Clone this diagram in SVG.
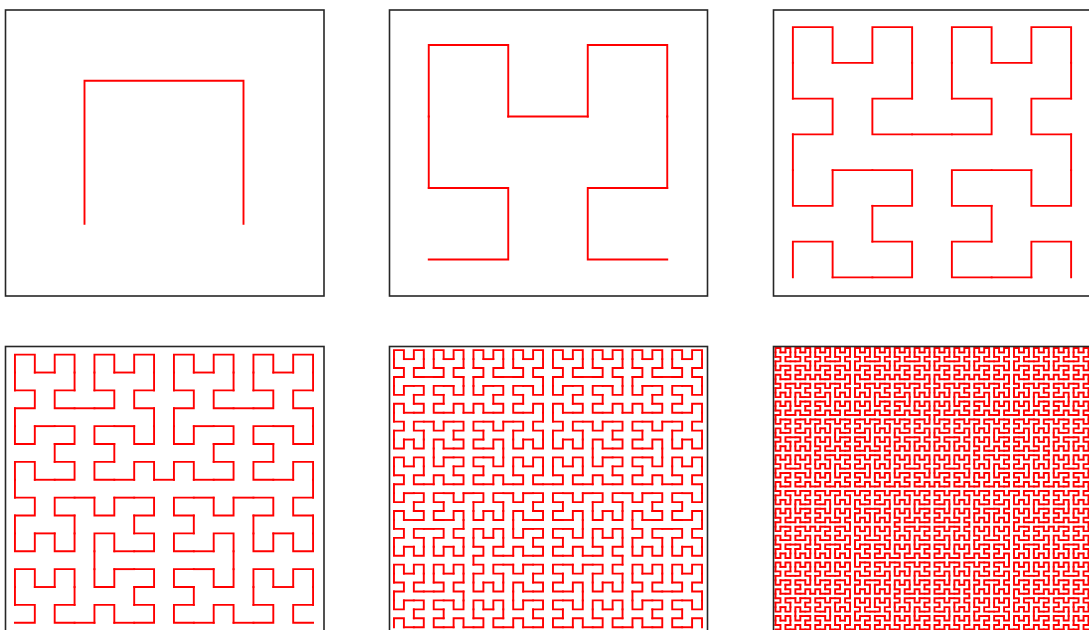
<svg xmlns="http://www.w3.org/2000/svg" width="1089" height="630" viewBox="0 0 1089 630">
<style>
.frame{fill:none;stroke:#262626;stroke-width:1.6}
.h{fill:none;stroke:#ff0000;stroke-width:1.9;vector-effect:non-scaling-stroke;stroke-linecap:square;stroke-linejoin:miter}
</style>
<defs>
<g id="h1"><polyline class="h" points="0.5,0.5 0.5,1.5 1.5,1.5 1.5,0.5"/></g>
<g id="h2">
<use href="#h1" transform="matrix(0,1,1,0,0,0)"/>
<use href="#h1" transform="translate(0,2)"/>
<use href="#h1" transform="translate(2,2)"/>
<use href="#h1" transform="matrix(0,-1,-1,0,4,2)"/>
<polyline class="h" points="0.5,1.5 0.5,2.5"/>
<polyline class="h" points="1.5,2.5 2.5,2.5"/>
<polyline class="h" points="3.5,2.5 3.5,1.5"/>
</g>
<g id="h3">
<use href="#h2" transform="matrix(0,1,1,0,0,0)"/>
<use href="#h2" transform="translate(0,4)"/>
<use href="#h2" transform="translate(4,4)"/>
<use href="#h2" transform="matrix(0,-1,-1,0,8,4)"/>
<polyline class="h" points="0.5,3.5 0.5,4.5"/>
<polyline class="h" points="3.5,4.5 4.5,4.5"/>
<polyline class="h" points="7.5,4.5 7.5,3.5"/>
</g>
<g id="h4">
<use href="#h3" transform="matrix(0,1,1,0,0,0)"/>
<use href="#h3" transform="translate(0,8)"/>
<use href="#h3" transform="translate(8,8)"/>
<use href="#h3" transform="matrix(0,-1,-1,0,16,8)"/>
<polyline class="h" points="0.5,7.5 0.5,8.5"/>
<polyline class="h" points="7.5,8.5 8.5,8.5"/>
<polyline class="h" points="15.5,8.5 15.5,7.5"/>
</g>
<g id="h5">
<use href="#h4" transform="matrix(0,1,1,0,0,0)"/>
<use href="#h4" transform="translate(0,16)"/>
<use href="#h4" transform="translate(16,16)"/>
<use href="#h4" transform="matrix(0,-1,-1,0,32,16)"/>
<polyline class="h" points="0.5,15.5 0.5,16.5"/>
<polyline class="h" points="15.5,16.5 16.5,16.5"/>
<polyline class="h" points="31.5,16.5 31.5,15.5"/>
</g>
<g id="h6">
<use href="#h5" transform="matrix(0,1,1,0,0,0)"/>
<use href="#h5" transform="translate(0,32)"/>
<use href="#h5" transform="translate(32,32)"/>
<use href="#h5" transform="matrix(0,-1,-1,0,64,32)"/>
<polyline class="h" points="0.5,31.5 0.5,32.5"/>
<polyline class="h" points="31.5,32.5 32.5,32.5"/>
<polyline class="h" points="63.5,32.5 63.5,31.5"/>
</g>
</defs>
<rect width="1089" height="630" fill="#ffffff"/>
<g id="panel1">
<use href="#h1" transform="translate(5,295.2) scale(159,-143)"/>
<rect class="frame" x="5.5" y="10" width="318.5" height="286"/>
</g>
<g id="panel2">
<use href="#h2" transform="translate(389,295.2) scale(79.5,-71.5)"/>
<rect class="frame" x="389.5" y="10" width="318" height="286"/>
</g>
<g id="panel3">
<use href="#h3" transform="translate(773,295.2) scale(39.75,-35.75)"/>
<rect class="frame" x="773.5" y="10" width="318" height="286"/>
</g>
<g id="panel4">
<use href="#h4" transform="translate(5,631.7) scale(19.875,-17.875)"/>
<rect class="frame" x="5.5" y="346.5" width="318.5" height="286"/>
</g>
<g id="panel5">
<use href="#h5" transform="translate(389,631.7) scale(9.9375,-8.9375)"/>
<rect class="frame" x="389.5" y="346.5" width="318" height="286"/>
</g>
<g id="panel6">
<use href="#h6" transform="translate(773,631.7) scale(4.96875,-4.46875)"/>
<rect class="frame" x="773.5" y="346.5" width="318" height="286"/>
</g>
</svg>
